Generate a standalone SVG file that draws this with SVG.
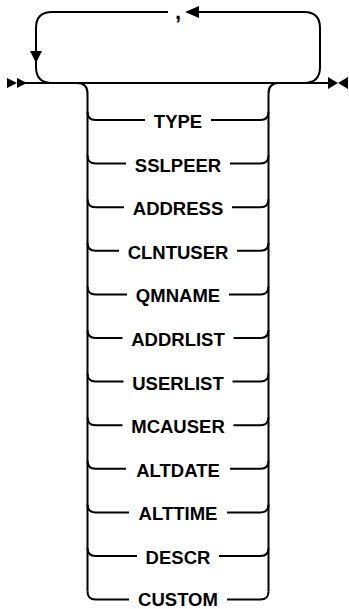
<svg xmlns="http://www.w3.org/2000/svg" width="349" height="609" viewBox="0 0 349 609">
<style>
.ln{fill:none;stroke:#000;stroke-width:2}
.ah{fill:#000;stroke:none}
text{font-family:"Liberation Sans",Arial,sans-serif;font-size:18.5px;font-weight:bold;fill:#000;text-anchor:middle}
.cm{font-size:22px}
</style>
<rect width="349" height="609" fill="#fff"/>
<g id="connectors">
<path class="ln" d="M17 83 H330"/>
<path class="ln" d="M52 83 Q36 83 36 67 V28 Q36 12 52 12 H168"/>
<path class="ln" d="M199 12 H304 Q320 12 320 28 V67 Q320 83 304 83"/>
<path class="ln" d="M77 83 Q87.5 83 87.5 93.5 V591.6"/>
<path class="ln" d="M279 83 Q268.5 83 268.5 93.5 V591.6"/>
<polygon class="ah" points="7,78 17,83 7,88"/>
<polygon class="ah" points="17,78 27,83 17,88"/>
<polygon class="ah" points="328,77 338,83 328,89"/>
<polygon class="ah" points="348,77 338,83 348,89"/>
<polygon class="ah" points="185,12 199,6 199,18"/>
<polygon class="ah" points="30,51 42,51 36,63"/>
</g>
<g id="sep"><text class="cm" x="178" y="19">,</text></g>
<g id="n-type"><path class="ln" d="M87.5 112 Q87.5 120 95.5 120 H145 M211 120 H260.5 Q268.5 120 268.5 112"/><text x="178" y="128">TYPE</text></g>
<g id="n-sslpeer"><path class="ln" d="M87.5 155.6 Q87.5 163.6 95.5 163.6 H126 M230 163.6 H260.5 Q268.5 163.6 268.5 155.6"/><text x="178" y="171.6">SSLPEER</text></g>
<g id="n-address"><path class="ln" d="M87.5 199.2 Q87.5 207.2 95.5 207.2 H124 M232 207.2 H260.5 Q268.5 207.2 268.5 199.2"/><text x="178" y="215.2">ADDRESS</text></g>
<g id="n-clntuser"><path class="ln" d="M87.5 242.8 Q87.5 250.8 95.5 250.8 H119 M237 250.8 H260.5 Q268.5 250.8 268.5 242.8"/><text x="178" y="258.8">CLNTUSER</text></g>
<g id="n-qmname"><path class="ln" d="M87.5 286.4 Q87.5 294.4 95.5 294.4 H127 M229 294.4 H260.5 Q268.5 294.4 268.5 286.4"/><text x="178" y="302.4">QMNAME</text></g>
<g id="n-addrlist"><path class="ln" d="M87.5 330 Q87.5 338 95.5 338 H122.5 M233.5 338 H260.5 Q268.5 338 268.5 330"/><text x="178" y="346">ADDRLIST</text></g>
<g id="n-userlist"><path class="ln" d="M87.5 373.6 Q87.5 381.6 95.5 381.6 H123.5 M232.5 381.6 H260.5 Q268.5 381.6 268.5 373.6"/><text x="178" y="389.6">USERLIST</text></g>
<g id="n-mcauser"><path class="ln" d="M87.5 417.2 Q87.5 425.2 95.5 425.2 H122.5 M233.5 425.2 H260.5 Q268.5 425.2 268.5 417.2"/><text x="178" y="433.2">MCAUSER</text></g>
<g id="n-altdate"><path class="ln" d="M87.5 460.8 Q87.5 468.8 95.5 468.8 H126 M230 468.8 H260.5 Q268.5 468.8 268.5 460.8"/><text x="178" y="476.8">ALTDATE</text></g>
<g id="n-alttime"><path class="ln" d="M87.5 504.4 Q87.5 512.4 95.5 512.4 H129 M227 512.4 H260.5 Q268.5 512.4 268.5 504.4"/><text x="178" y="520.4">ALTTIME</text></g>
<g id="n-descr"><path class="ln" d="M87.5 548 Q87.5 556 95.5 556 H137 M219 556 H260.5 Q268.5 556 268.5 548"/><text x="178" y="564">DESCR</text></g>
<g id="n-custom"><path class="ln" d="M87.5 591.6 Q87.5 599.6 95.5 599.6 H129 M227 599.6 H260.5 Q268.5 599.6 268.5 591.6"/><text x="178" y="606">CUSTOM</text></g>
</svg>
